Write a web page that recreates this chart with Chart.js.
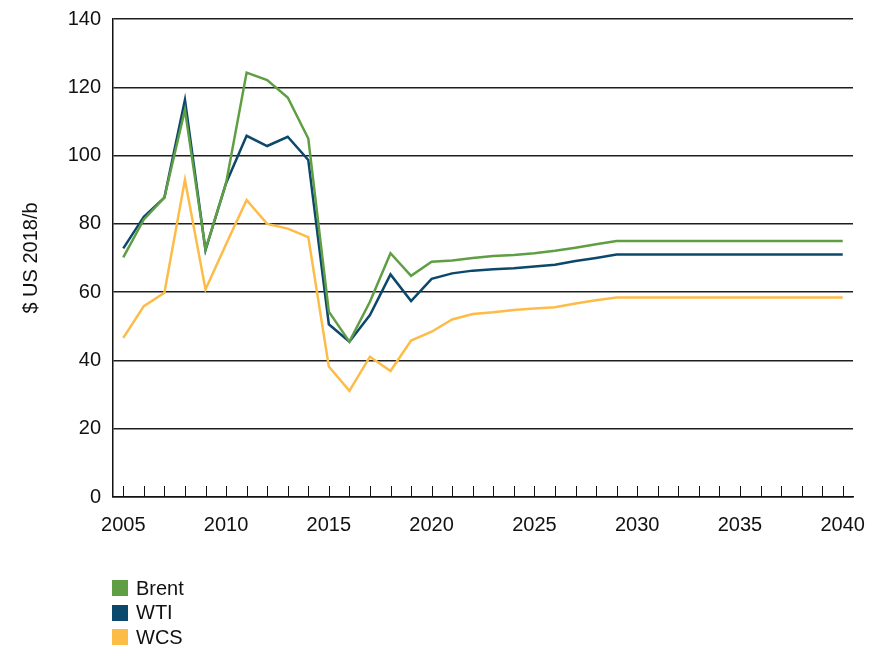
<!DOCTYPE html>
<html>
<head>
<meta charset="utf-8">
<script src="https://cdn.jsdelivr.net/npm/chart.js@4/dist/chart.umd.min.js"></script>
<style>
  body { margin: 0; background: #fff; }
  #wrap { position: relative; width: 884px; height: 647px; }
  #priceChart { position: absolute; left: 0; top: 0; }
  #legend { position: absolute; left: 112px; top: 576px; font: 20px "Liberation Sans", Arial, sans-serif; color: #111; }
  #legend div { display: flex; align-items: center; height: 24.5px; }
  #legend span.box { display: inline-block; width: 16px; height: 16px; margin-right: 8px; }
</style>
</head>
<body>
<div id="wrap">
  <canvas id="priceChart" width="884" height="647"></canvas>
  <div id="legend"></div>
</div>
<script>
const years = [];
for (let y = 2005; y <= 2040; y++) years.push(y);

const brent = [70.2, 81.3, 87.7, 113.4, 72.5, 91.9, 124.3, 122.1, 117.0, 105.0,
  54.3, 45.5, 57.2, 71.4, 64.8, 68.9, 69.3, 70.0, 70.6, 70.9,
  71.4, 72.1, 73.0, 74.0, 75, 75, 75, 75, 75, 75,
  75, 75, 75, 75, 75, 75];
const wti = [72.8, 82.1, 87.7, 116.3, 72.3, 91.9, 105.8, 102.8, 105.5, 98.7,
  50.6, 45.5, 53.3, 65.2, 57.4, 63.9, 65.5, 66.3, 66.7, 67.0,
  67.5, 68.0, 69.1, 70.0, 71, 71, 71, 71, 71, 71,
  71, 71, 71, 71, 71, 71];
const wcs = [46.6, 55.9, 59.8, 92.9, 60.8, 74.0, 87.0, 80.0, 78.6, 76.1,
  38.2, 31.1, 41.1, 36.9, 45.8, 48.4, 52.0, 53.6, 54.1, 54.8,
  55.2, 55.6, 56.7, 57.6, 58.4, 58.4, 58.4, 58.4, 58.4, 58.4,
  58.4, 58.4, 58.4, 58.4, 58.4, 58.4];

const seriesNames = ["Brent", "WTI", "WCS"];
const seriesColors = ["#609E44", "#0C486B", "#FDBB48"];
const FONT = "'Liberation Sans', Arial, sans-serif";

// small tick marks pointing up from the x axis, one per year
const yearTicks = {
  id: "yearTicks",
  afterDatasetsDraw(chart) {
    const { ctx, scales: { x } } = chart;
    const bottom = chart.chartArea.bottom;
    ctx.save();
    ctx.strokeStyle = "#111";
    ctx.lineWidth = 1;
    years.forEach((_, i) => {
      const px = Math.round(x.getPixelForValue(i)) + 0.5;
      ctx.beginPath();
      ctx.moveTo(px, bottom);
      ctx.lineTo(px, bottom - 11);
      ctx.stroke();
    });
    ctx.restore();
  }
};

const chart = new Chart(document.getElementById("priceChart"), {
  type: "line",
  data: {
    labels: years,
    datasets: [brent, wti, wcs].map((d, i) => ({
      label: seriesNames[i],
      data: d,
      borderColor: seriesColors[i],
      backgroundColor: seriesColors[i],
      borderWidth: 2.5,
      pointRadius: 0,
      tension: 0,
      fill: false
    }))
  },
  options: {
    responsive: false,
    animation: false,
    layout: { padding: { top: 19, right: 31, left: 0, bottom: 0 } },
    plugins: { legend: { display: false }, tooltip: { enabled: false } },
    scales: {
      x: {
        offset: true,
        grid: { display: false, drawTicks: false },
        border: { display: true, color: "#111", width: 1.5 },
        ticks: {
          autoSkip: false,
          maxRotation: 0,
          padding: 16,
          color: "#111",
          font: { family: FONT, size: 20 },
          callback: (v, i) => years[i] % 5 === 0 ? years[i] : ""
        },
        afterFit: s => { s.height = 150; s.paddingLeft = 0; s.paddingRight = 0; }
      },
      y: {
        min: 0,
        max: 140,
        ticks: { stepSize: 20, padding: 12, color: "#111", font: { family: FONT, size: 20 } },
        grid: { color: "#1f1f1f", lineWidth: 1.5, drawTicks: false },
        border: { display: true, color: "#111", width: 1.5 },
        title: {
          display: true,
          text: "$ US 2018/b",
          color: "#111",
          font: { family: FONT, size: 20 },
          padding: { top: 19, bottom: 0 }
        },
        afterFit: s => { s.width = 113; s.paddingTop = 0; s.paddingBottom = 0; }
      }
    }
  },
  plugins: [yearTicks]
});

// legend stacked in a column under the chart
const legend = document.getElementById("legend");
chart.data.datasets.forEach(ds => {
  const row = document.createElement("div");
  const box = document.createElement("span");
  box.className = "box";
  box.style.background = ds.borderColor;
  row.appendChild(box);
  row.appendChild(document.createTextNode(ds.label));
  legend.appendChild(row);
});
</script>
</body>
</html>
